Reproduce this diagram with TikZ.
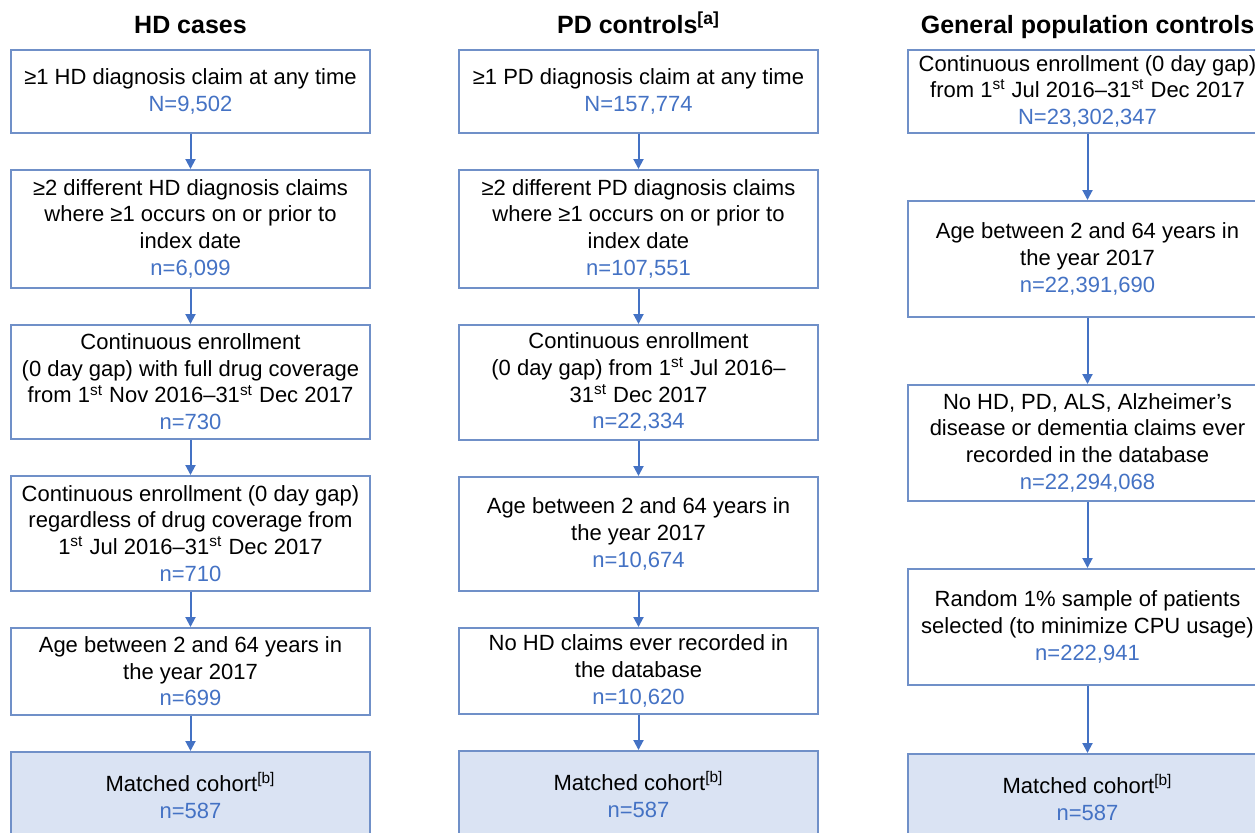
\documentclass[tikz,border=0pt]{standalone}
\usepackage{fontspec}
\setmainfont{Liberation Sans}
\usepackage{tikz}
\usetikzlibrary{arrows.meta, positioning}

\definecolor{flowblue}{HTML}{4472C4}
\definecolor{boxblue}{HTML}{7090C8}
\definecolor{cohortfill}{HTML}{DAE3F3}
\newcommand{\cnt}[1]{\textcolor{flowblue}{#1}}

\begin{document}
\begin{tikzpicture}[
  % --- styles ------------------------------------------------------------
  box/.style={
    rectangle, draw=boxblue, line width=0.75pt,
    minimum width=179.5pt, inner xsep=2pt, inner ysep=1pt,
    font=\fontsize{11pt}{13.35pt}\selectfont, align=center, fill=white
  },
  cohort/.style={box, fill=cohortfill, minimum height=43.5pt},
  head/.style={font=\fontsize{12.5pt}{15pt}\selectfont\bfseries, inner sep=0pt},
  flow/.style={-{Triangle[width=5pt, length=5pt]}, line width=1pt, flowblue},
  node distance = 17.75pt and 43.75pt
]
\useasboundingbox (0,0) rectangle (627.5pt,-416pt);

% --------------------- HD cases ------------------------------------------
\node[box, minimum height=41.5pt, anchor=north] (hd1) at (95.25pt,-24.5pt)
  {≥1 HD diagnosis claim at any time\\ \cnt{N=9,502}};
\node[box, minimum height=59pt, below=of hd1] (hd2)
  {≥2 different HD diagnosis claims\\ where ≥1 occurs on or prior to\\ index date\\ \cnt{n=6,099}};
\node[box, minimum height=57pt, below=of hd2] (hd3)
  {Continuous enrollment\\ (0 day gap) with full drug coverage\\
   from 1\textsuperscript{st} Nov 2016–31\textsuperscript{st} Dec 2017\\ \cnt{n=730}};
\node[box, minimum height=57.5pt, below=of hd3] (hd4)
  {Continuous enrollment (0 day gap)\\ regardless of drug coverage from\\
   1\textsuperscript{st} Jul 2016–31\textsuperscript{st} Dec 2017\\ \cnt{n=710}};
\node[box, minimum height=43.5pt, below=of hd4] (hd5)
  {Age between 2 and 64 years in\\ the year 2017\\ \cnt{n=699}};
\node[cohort, below=of hd5] (hd6)
  {Matched cohort\textsuperscript{[b]}\\ \cnt{n=587}};

% --------------------- PD controls ---------------------------------------
\node[box, minimum height=41.5pt, right=of hd1] (pd1)
  {≥1 PD diagnosis claim at any time\\ \cnt{N=157,774}};
\node[box, minimum height=59pt, below=of pd1] (pd2)
  {≥2 different PD diagnosis claims\\ where ≥1 occurs on or prior to\\ index date\\ \cnt{n=107,551}};
\node[box, minimum height=57.5pt, below=of pd2] (pd3)
  {Continuous enrollment\\ (0 day gap) from 1\textsuperscript{st} Jul 2016–\\
   31\textsuperscript{st} Dec 2017\\ \cnt{n=22,334}};
\node[box, minimum height=57pt, below=of pd3] (pd4)
  {Age between 2 and 64 years in\\ the year 2017\\ \cnt{n=10,674}};
\node[box, minimum height=43pt, below=of pd4] (pd5)
  {No HD claims ever recorded in\\ the database\\ \cnt{n=10,620}};
\node[cohort, below=of pd5] (pd6)
  {Matched cohort\textsuperscript{[b]}\\ \cnt{n=587}};

% --------------------- general population controls -----------------------
\node[box, minimum height=41.5pt, right=44.25pt of pd1] (gp1)
  {Continuous enrollment (0 day gap)\\
   from 1\textsuperscript{st} Jul 2016–31\textsuperscript{st} Dec 2017\\ \cnt{N=23,302,347}};
\node[box, minimum height=58pt, below=33.25pt of gp1] (gp2)
  {Age between 2 and 64 years in\\ the year 2017\\ \cnt{n=22,391,690}};
\node[box, minimum height=58pt, below=33.25pt of gp2] (gp3)
  {No HD, PD, ALS, Alzheimer’s\\ disease or dementia claims ever\\
   recorded in the database\\ \cnt{n=22,294,068}};
\node[box, minimum height=58pt, below=33.25pt of gp3] (gp4)
  {Random 1\% sample of patients\\ selected (to minimize CPU usage)\\ \cnt{n=222,941}};
\node[cohort, below=33.75pt of gp4] (gp5)
  {Matched cohort\textsuperscript{[b]}\\ \cnt{n=587}};

% --------------------- column headings -----------------------------------
\node[head, above=8pt of hd1, anchor=base] (hdhead) {HD cases};
\node[head, above=8pt of pd1, anchor=base] (pdhead) {PD controls\textsuperscript{[a]}};
\node[head, above=8pt of gp1, anchor=base] (gphead) {General population controls};

% --------------------- flow arrows ---------------------------------------
\draw[flow] (hd1) -- (hd2);
\draw[flow] (hd2) -- (hd3);
\draw[flow] (hd3) -- (hd4);
\draw[flow] (hd4) -- (hd5);
\draw[flow] (hd5) -- (hd6);

\draw[flow] (pd1) -- (pd2);
\draw[flow] (pd2) -- (pd3);
\draw[flow] (pd3) -- (pd4);
\draw[flow] (pd4) -- (pd5);
\draw[flow] (pd5) -- (pd6);

\draw[flow] (gp1) -- (gp2);
\draw[flow] (gp2) -- (gp3);
\draw[flow] (gp3) -- (gp4);
\draw[flow] (gp4) -- (gp5);

\end{tikzpicture}
\end{document}
